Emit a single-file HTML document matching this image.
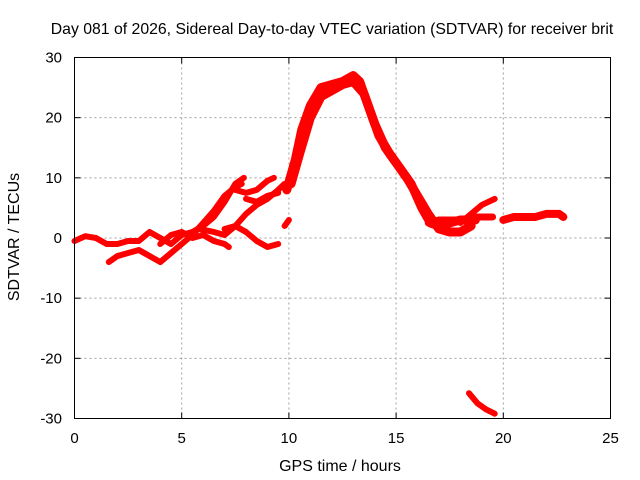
<!DOCTYPE html>
<html><head><meta charset="utf-8"><style>
html,body{margin:0;padding:0;background:#fff;}
svg{display:block;font-family:"Liberation Sans",sans-serif;}
</style></head><body>
<svg id="chart" width="640" height="480" xmlns="http://www.w3.org/2000/svg">
<text x="332" y="34" text-anchor="middle" font-size="15.8" fill="#000">Day 081 of 2026, Sidereal Day-to-day VTEC variation (SDTVAR) for receiver brit</text>
<text x="340" y="471" text-anchor="middle" font-size="16">GPS time / hours</text>
<text transform="translate(19,237) rotate(-90)" text-anchor="middle" font-size="16">SDTVAR / TECUs</text>
<g id="grid"></g>
<g id="ticks"></g>
<g id="series"></g>
<rect x="74.5" y="57.5" width="536" height="361" fill="none" stroke="#000"/>
</svg>
<script>
const xTicks=[0,5,10,15,20,25];
const yTicks=[-30,-20,-10,0,10,20,30];
const trackA=[[0,-0.5],[0.5,0.3],[1,0],[1.5,-1],[2,-1],[2.5,-0.5],[3,-0.5],[3.5,1],[4,0],[4.5,-1],[5,0.5],[5.5,1],[6,2],[6.5,3.5],[7,6],[7.5,9],[7.9,10]];
const trackB=[[1.6,-4],[2,-3],[2.5,-2.5],[3,-2],[3.5,-3],[4,-4],[4.5,-2.5],[5,-1],[5.5,0.5],[6,2.5],[6.5,4.5],[7,7],[7.5,8.5],[7.8,9]];
const trackC=[[5.8,1.5],[6.5,1],[7,0.5],[7.5,2],[8,4],[8.5,5.5],[9,6.5],[9.5,8],[9.8,9]];
const trackD=[[7.5,8],[8,7.5],[8.5,8],[9,9.5],[9.3,10]];
const trackE=[[8,6.5],[8.5,6],[9,7],[9.5,7.5]];
const trackF=[[7,1.5],[7.5,2],[8,1],[8.5,-0.5],[9,-1.5],[9.5,-1]];
const trackG=[[9.8,2],[10,3]];
const trackH=[[4,-1],[4.5,0.5],[5,1],[5.5,0],[6,0.5],[6.5,-0.5],[7,-1],[7.2,-1.5]];
const trackP1=[[9.9,8],[10.3,13],[10.6,18],[11,22],[11.5,25],[12,25.5],[12.5,26],[13,27],[13.3,26],[13.7,22],[14.2,17],[14.7,14],[15.2,11.5],[15.7,9],[16.2,5],[16.6,2.5],[17,2],[17.5,2.5],[18,3],[18.7,3]];
const trackP2=[[10.1,9],[10.5,14],[11,20],[11.5,23.5],[12,24.5],[12.5,25.5],[13,26],[13.5,24],[14,19],[14.5,15],[15,12.5],[15.5,10],[16,7],[16.5,4],[17,1.5],[17.5,1],[18,1],[18.5,2]];
const trackP3=[[16.5,2.5],[17,3],[17.5,3],[18.2,3],[18.8,3.5],[19.5,3.5]];
const trackP4=[[18,2.5],[18.5,4],[19,5.5],[19.6,6.5]];
const trackR=[[20,3],[20.5,3.5],[21,3.5],[21.5,3.5],[22,4],[22.6,4],[22.8,3.5]];
const trackL=[[18.4,-25.8],[18.8,-27.5],[19.2,-28.5],[19.6,-29.2]];
const tracks=[trackA,trackB,trackC,trackD,trackE,trackF,trackG,trackH,trackP1,trackP2,trackP3,trackP4,trackR,trackL];
const widths=[6,6,6,6,6,6,6,6,9,9,7,6,8,6];
const NS="http://www.w3.org/2000/svg";
const X0=74.5,X1=610.5,Y0=418.5,Y1=57.5;
function sx(h){return X0+(h-0)/25*(X1-X0);}
function sy(v){return Y0-(v+30)/60*(Y0-Y1);}
const grid=document.getElementById('grid'),ticks=document.getElementById('ticks'),ser=document.getElementById('series');
function mk(tag,attrs,parent){const e=document.createElementNS(NS,tag);for(const k in attrs)e.setAttribute(k,attrs[k]);parent.appendChild(e);return e;}
xTicks.forEach(t=>{const x=sx(t);
 if(t>0&&t<25){const g=mk('line',{x1:x,x2:x,y1:Y1,y2:Y0,stroke:'#a0a0a0','stroke-dasharray':'2,3'},grid);
 
 }
 mk('line',{x1:x,x2:x,y1:Y0,y2:Y0-6,stroke:'#000'},ticks);mk('line',{x1:x,x2:x,y1:Y1,y2:Y1+6,stroke:'#000'},ticks);
 const l=mk('text',{x:x,y:443,'text-anchor':'middle','font-size':15},ticks);l.textContent=t;
 
 });
yTicks.forEach(t=>{const y=sy(t);
 if(t>-30&&t<30){const g=mk('line',{x1:X0,x2:X1,y1:y,y2:y,stroke:'#a0a0a0','stroke-dasharray':'2,3'},grid);
 
 }
 mk('line',{x1:X0,x2:X0+6,y1:y,y2:y,stroke:'#000'},ticks);mk('line',{x1:X1,x2:X1-6,y1:y,y2:y,stroke:'#000'},ticks);
 const l=mk('text',{x:62,y:y+5,'text-anchor':'end','font-size':15},ticks);l.textContent=t;
 
 });
tracks.forEach((tr,i)=>{
 const p=mk('polyline',{points:tr.map(d=>sx(d[0])+','+sy(d[1])).join(' '),fill:'none',stroke:'#ff0000','stroke-width':widths[i],'stroke-linejoin':'round','stroke-linecap':'round'},ser);
 
 
});
</script>
</body></html>
